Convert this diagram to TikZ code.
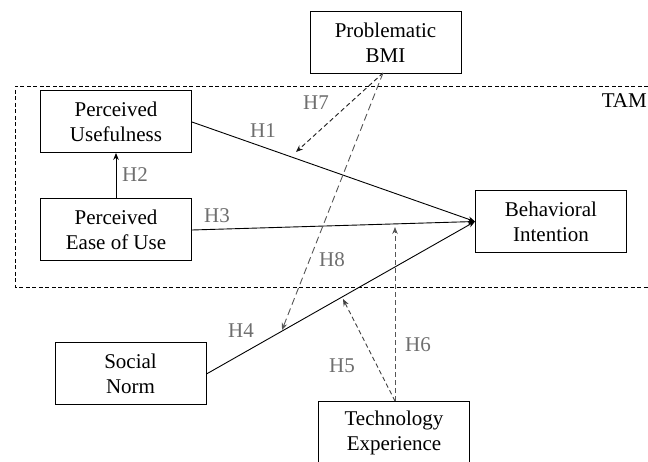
\documentclass[tikz,border=0pt]{standalone}
\usepackage{fontspec}
\setmainfont{Liberation Serif}
\usetikzlibrary{arrows.meta}
\definecolor{lblgray}{HTML}{6E6E6E}
\definecolor{lngray}{HTML}{555555}
\begin{document}
\begin{tikzpicture}[x=1pt,y=-1pt,
  box/.style={draw,line width=0.9pt,minimum width=151pt,minimum height=62pt,align=center,inner sep=0pt,font=\fontsize{21}{25}\selectfont},
  hlabel/.style={text=lblgray,font=\fontsize{21}{22}\selectfont,inner sep=0pt},
  tip/.style={-{Stealth[length=7pt,width=5.5pt]}},
  solidarrow/.style={tip,line width=0.9pt},
  dasharrow/.style={tip,line width=0.9pt,dash pattern=on 4.5pt off 3pt,draw=black!90},
  longdash/.style={line width=0.9pt,dash pattern=on 7pt off 4pt,draw=lngray,-{Stealth[length=7pt,width=5.5pt]}},
  tamline/.style={line width=0.8pt,dash pattern=on 4pt off 2.5pt}]
\useasboundingbox (0,0) rectangle (648,462);
% TAM frame
\coordinate (tr) at (648,86);
\coordinate (tl) at (15,86);
\coordinate (bl) at (15,287);
\coordinate (br) at (648,287);
\draw[tamline] (tr) -- (tl) -- (bl) -- (br);
\node[font=\fontsize{21}{22}\selectfont,anchor=east,inner sep=0pt] (tam) at (647,101) {TAM};
% boxes
\node[box] (bmi) at (385.5,42.5) {Problematic\\BMI};
\node[box] (pu) at (116,121.5) {Perceived\\Usefulness};
\node[box] (peu) at (116,229.5) {Perceived\\Ease of Use};
\node[box] (bi) at (551,221.5) {Behavioral\\Intention};
\node[box] (sn) at (130.5,373.5) {Social\\Norm};
\node[box,anchor=north] (te) at (394,401) {Technology\\Experience};
% convergence point
\coordinate (c) at (bi.west);
% main paths
\draw[solidarrow] (pu.east |- 0,122) -- (c);
\draw[solidarrow] (peu.east |- 0,230) -- (c);
\draw[solidarrow] (sn.east |- 0,374) -- (c);
\draw[solidarrow] (peu.north) -- (pu.south);
% moderation
\coordinate (bmiout) at (383,73);
\coordinate (h7tip) at (296,152);
\coordinate (h8tip) at (282,330);
\coordinate (teout) at (395,401);
\coordinate (h5tip) at (343,299);
\coordinate (h6tip) at (395,227);
\draw[dasharrow] (bmiout) -- (h7tip);
\draw[longdash] (bmiout) -- (h8tip);
\draw[dasharrow,draw=black!75] (teout) -- (h5tip);
\draw[longdash,dash pattern=on 5pt off 3pt] (teout) -- (h6tip);
% labels
\node[hlabel] (l1) at (263,131) {H1};
\node[hlabel] (l2) at (135,175) {H2};
\node[hlabel] (l3) at (217,216) {H3};
\node[hlabel] (l4) at (241,331) {H4};
\node[hlabel] (l5) at (342,366) {H5};
\node[hlabel] (l6) at (418,345) {H6};
\node[hlabel] (l7) at (316,103) {H7};
\node[hlabel] (l8) at (332,260) {H8};
\end{tikzpicture}
\end{document}
